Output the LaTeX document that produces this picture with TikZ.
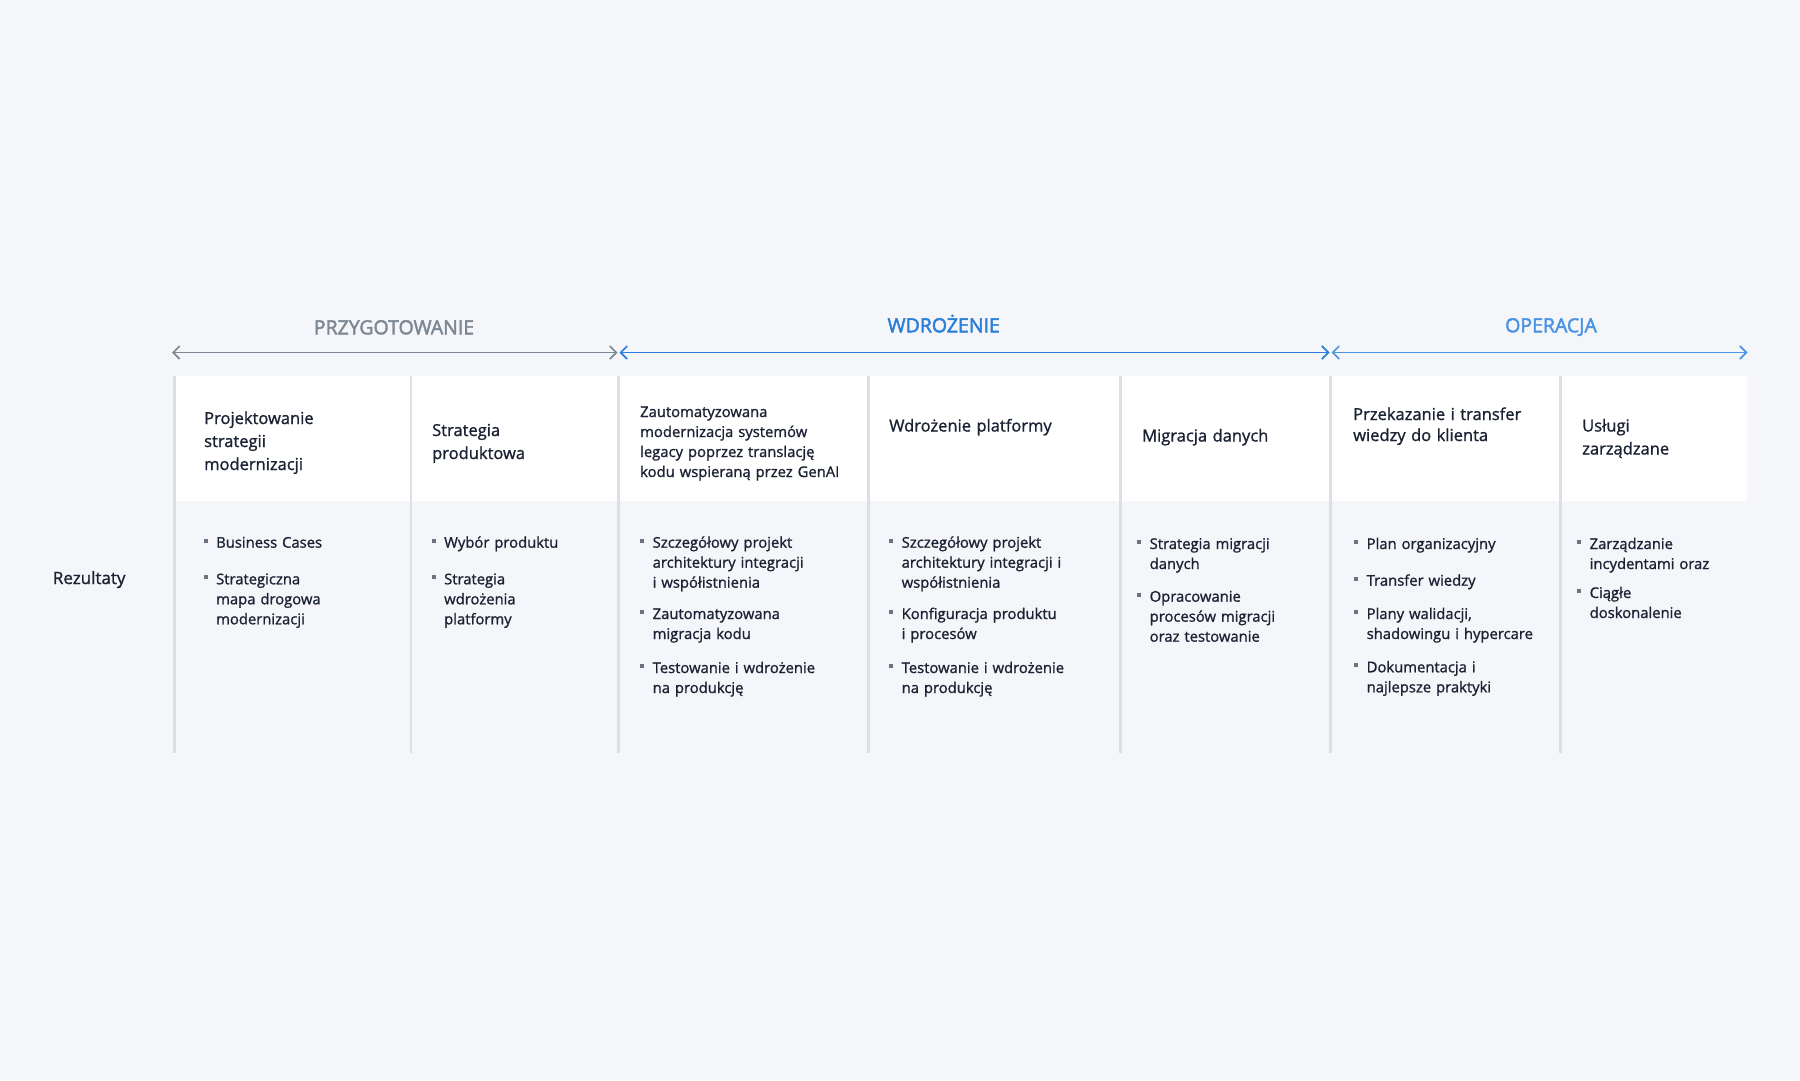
\documentclass[tikz,border=0pt]{standalone}
\usepackage{fontspec}
\setmainfont{Open Sans}[FakeBold=1.2]
\newfontfamily\phasefamily{Open Sans}[FakeBold=2.2]
\usetikzlibrary{arrows.meta}

\definecolor{pagebg}{HTML}{F4F6FA}
\definecolor{divgray}{HTML}{DCDFE5}
\definecolor{inkdark}{HTML}{1B2233}
\definecolor{sqgray}{HTML}{6B7280}
\definecolor{prepgray}{HTML}{7C8793}
\definecolor{implblue}{HTML}{2B7FD9}
\definecolor{operblue}{HTML}{4B94E3}

% small square bullet hanging left of the text
\newcommand{\sqb}{\llap{\textcolor{sqgray}{\rule[5pt]{4pt}{4pt}}\hspace{8.7pt}}}

\begin{document}
\begin{tikzpicture}[x=1pt,y=-1pt,
  phase/.style={anchor=base,inner sep=0pt,font=\phasefamily\fontsize{19.5}{23}\selectfont},
  head/.style={anchor=base west,inner sep=0pt,text width=230pt,align=left,text=inkdark,font=\fontsize{16.5}{23}\selectfont},
  headsmall/.style={head,font=\fontsize{14.8}{20}\selectfont},
  item/.style={anchor=base west,inner sep=0pt,text width=200pt,align=left,text=inkdark,font=\fontsize{14.8}{20}\selectfont},
  divider/.style={draw=divgray,line width=2.7pt},
  span/.style={line width=1.7pt,{Straight Barb[length=6.5pt,width=13pt]}-{Straight Barb[length=6.5pt,width=13pt]}}]

 \fill[pagebg] (0,0) rectangle (1800,1080);
 \useasboundingbox (0,0) rectangle (1800,1080);

 % header band and column rules
 \fill[white] (174.5,376) rectangle (1747,500.7);
 \foreach \x in {174.5,411,618.6,868.7,1120.3,1330.5,1560.5}
   \path[divider] (\x,376) -- (\x,753.3);

 % phases
 \coordinate (prep0) at (172,352.5);
 \coordinate (prep1) at (617.5,352.5);
 \coordinate (impl0) at (619.5,352.5);
 \coordinate (impl1) at (1329.5,352.5);
 \coordinate (oper0) at (1331.5,352.5);
 \coordinate (oper1) at (1747.5,352.5);

 \node[phase,text=prepgray] (prep) at (394,334.3) {PRZYGOTOWANIE};
 \node[phase,text=implblue] (impl) at (943.7,332.3) {WDROŻENIE};
 \node[phase,text=operblue] (oper) at (1551,332.3) {OPERACJA};

 \path[draw=prepgray] (prep0) edge [span] (prep1);
 \path[draw=implblue] (impl0) edge [span] (impl1);
 \path[draw=operblue] (oper0) edge [span] (oper1);

 % column headers
 \node[head] (head1) at (204,424) {Projektowanie\\strategii\\modernizacji};
 \node[head] (head2) at (432,436) {Strategia\\produktowa};
 \node[headsmall] (head3) at (640,417) {Zautomatyzowana\\modernizacja systemów\\legacy poprzez translację\\kodu wspieraną przez GenAI};
 \node[head] (head4) at (889,431.5) {Wdrożenie platformy};
 \node[head] (head5) at (1142,441.5) {Migracja danych};
 \node[head] (head6) at (1353,420) {Przekazanie i transfer\\[-2pt]wiedzy do klienta};
 \node[head] (head7) at (1582,431.5) {Usługi\\zarządzane};

 \node[head,font=\fontsize{17}{23}\selectfont] (results) at (52.7,584) {Rezultaty};

 % deliverables
 \node[item] (item1a) at (216,547.7) {\sqb Business Cases};
 \node[item] (item1b) at (216,584.3) {\sqb Strategiczna\\mapa drogowa\\modernizacji};

 \node[item] (item2a) at (444,547.7) {\sqb Wybór produktu};
 \node[item] (item2b) at (444,584.3) {\sqb Strategia\\wdrożenia\\platformy};

 \node[item] (item3a) at (652.5,547.7) {\sqb Szczegółowy projekt\\architektury integracji\\i współistnienia};
 \node[item] (item3b) at (652.5,619) {\sqb Zautomatyzowana\\migracja kodu};
 \node[item] (item3c) at (652.5,673) {\sqb Testowanie i wdrożenie\\na produkcję};

 \node[item] (item4a) at (901.5,547.7) {\sqb Szczegółowy projekt\\architektury integracji i\\współistnienia};
 \node[item] (item4b) at (901.5,619) {\sqb Konfiguracja produktu\\i procesów};
 \node[item] (item4c) at (901.5,673) {\sqb Testowanie i wdrożenie\\na produkcję};

 \node[item] (item5a) at (1149.5,549) {\sqb Strategia migracji\\danych};
 \node[item] (item5b) at (1149.5,601.7) {\sqb Opracowanie\\procesów migracji\\oraz testowanie};

 \node[item] (item6a) at (1366.5,549) {\sqb Plan organizacyjny};
 \node[item] (item6b) at (1366.5,585.7) {\sqb Transfer wiedzy};
 \node[item] (item6c) at (1366.5,619) {\sqb Plany walidacji,\\shadowingu i hypercare};
 \node[item] (item6d) at (1366.5,672.3) {\sqb Dokumentacja i\\najlepsze praktyki};

 \node[item] (item7a) at (1589.5,549) {\sqb Zarządzanie\\incydentami oraz};
 \node[item] (item7b) at (1589.5,598) {\sqb Ciągłe\\doskonalenie};
\end{tikzpicture}
\end{document}
